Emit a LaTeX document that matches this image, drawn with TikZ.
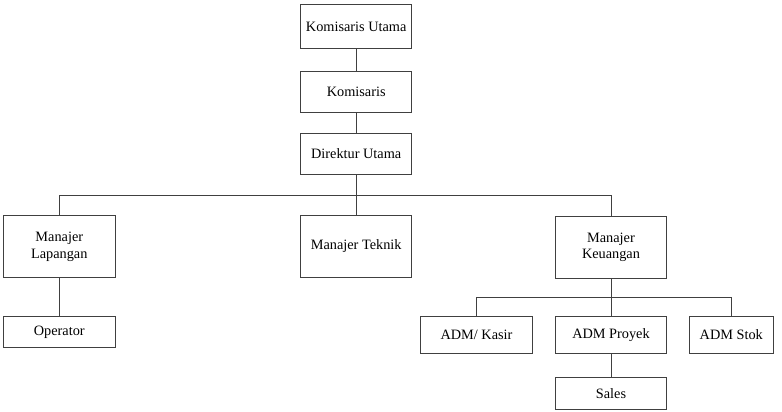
\documentclass[tikz,border=0pt]{standalone}
\usepackage{fontspec}
\setmainfont{Liberation Serif}
\begin{document}
\begin{tikzpicture}[x=1pt,y=-1pt,
  box/.style={draw=black!75, line width=0.8pt, fill=white, inner sep=0pt, minimum width=111pt, align=center,
    font=\fontsize{14.3}{16.7}\selectfont},
  conn/.style={draw=black!75, line width=0.8pt}]
\useasboundingbox (0,0) rectangle (782,412);
\node[box, minimum height=43.6pt] (ku) at (356.2,26.5) {Komisaris Utama};
\node[box, minimum height=40.6pt] (k) at (356.2,92) {Komisaris};
\node[box, minimum height=40.7pt] (du) at (356.2,153.7) {Direktur Utama};
\node[box, minimum width=111.3pt, minimum height=61.6pt] (ml) at (59.3,246.5) {Manajer\\Lapangan};
\node[box, minimum height=61.6pt] (mt) at (356.2,246.5) {Manajer Teknik};
\node[box, minimum width=111.4pt, minimum height=62pt] (mk) at (611,247.2) {Manajer\\Keuangan};
\node[box, minimum width=111.3pt, minimum height=31pt] (op) at (59.3,332.2) {Operator};
\node[box, minimum width=111.6pt, minimum height=37.3pt] (kasir) at (476.5,334.7) {ADM/ Kasir};
\node[box, minimum width=111.4pt, minimum height=37.3pt] (proyek) at (611,334.7) {ADM Proyek};
\node[box, minimum width=84pt, minimum height=37.3pt] (stok) at (731.3,334.7) {ADM Stok};
\node[box, minimum width=111.4pt, minimum height=31.6pt] (sales) at (611,393.5) {Sales};
\coordinate (b1) at (356.2,195);
\coordinate (b2) at (611,297.7);
\draw[conn] (ku) -- (k);
\draw[conn] (k) -- (du);
\draw[conn] (du) -- (b1);
\draw[conn] (b1) -- (mt);
\draw[conn] (ml.north) -- (ml.north |- b1) -| (mk.north);
\draw[conn] (ml) -- (op);
\draw[conn] (mk) -- (proyek);
\draw[conn] (kasir.north) -- (kasir.north |- b2) -| (stok.north);
\draw[conn] (proyek) -- (sales);
\end{tikzpicture}
\end{document}
